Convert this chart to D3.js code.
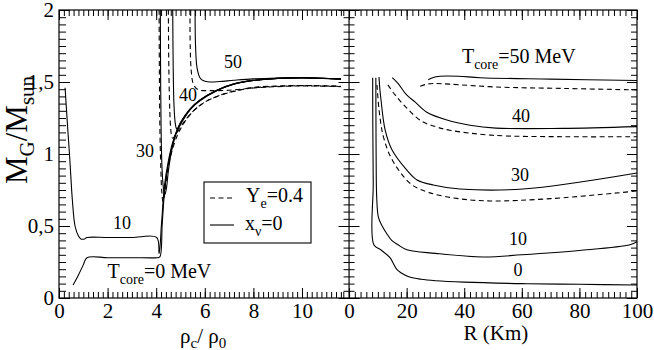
<!DOCTYPE html>
<html>
<head>
<meta charset="utf-8">
<script src="https://cdn.jsdelivr.net/npm/d3@7"></script>
<style>
body { margin: 0; background: #fff; }
svg { display: block; }
</style>
</head>
<body>
<svg id="chart"></svg>
<script>
const width = 654;
const height = 350;
const serif = 'Liberation Serif';

// left panel: [rho_c/rho_0, M_G/M_sun]
const leftT0 = [[0.58,0.09],[0.8,0.16],[1.0,0.23],[1.15,0.28],[2,0.28],[3,0.28],[4.05,0.28],[4.15,0.285],[4.25,0.52],[4.36,0.77],[4.5,0.93],[4.65,1.05],[4.8,1.14],[5.0,1.215],[5.4,1.31],[5.8,1.37],[6.5,1.44],[7.2,1.485],[8,1.51],[9,1.525],[10,1.53],[11.6,1.52]];
const leftT10 = [[0.25,1.46],[0.35,1.2],[0.45,0.95],[0.55,0.68],[0.66,0.5],[0.8,0.43],[0.9,0.41],[1.05,0.41],[1.15,0.42],[2,0.42],[3,0.42],[4.02,0.42],[4.12,0.31],[4.22,0.52],[4.34,0.78],[4.5,0.95],[4.66,1.07],[4.82,1.15],[5.02,1.225],[5.4,1.315],[5.8,1.375],[6.5,1.443],[7.2,1.487],[8,1.512],[9,1.526],[10,1.53],[11.6,1.522]];
const leftT30 = [[4.17,2.0],[4.18,1.6],[4.2,1.2],[4.24,0.9],[4.3,0.76],[4.36,0.72],[4.42,0.76],[4.5,0.88],[4.62,1.01],[4.8,1.13],[5.0,1.21],[5.4,1.31],[5.8,1.372],[6.5,1.442],[7.2,1.486],[8,1.51],[9,1.524],[10,1.528],[11.6,1.52]];
const leftT30Ye = [[4.12,2.0],[4.13,1.6],[4.15,1.2],[4.19,0.9],[4.23,0.74],[4.28,0.67],[4.33,0.7],[4.4,0.8],[4.52,0.93],[4.7,1.05],[4.9,1.14],[5.2,1.23],[5.6,1.31],[6,1.36],[6.5,1.4],[7.2,1.435],[8,1.46],[9,1.47],[10,1.475],[11.6,1.47]];
const leftT40 = [[4.68,2.0],[4.7,1.6],[4.73,1.35],[4.78,1.22],[4.84,1.175],[4.9,1.175],[5.0,1.205],[5.2,1.26],[5.4,1.31],[5.8,1.374],[6.5,1.443],[7.2,1.487],[8,1.511],[9,1.525],[10,1.529],[11.6,1.521]];
const leftT40Ye = [[4.5,2.0],[4.52,1.6],[4.56,1.3],[4.6,1.17],[4.65,1.115],[4.7,1.11],[4.78,1.13],[4.9,1.16],[5.2,1.235],[5.6,1.31],[6,1.36],[6.5,1.4],[7.2,1.437],[8,1.462],[9,1.472],[10,1.476],[11.6,1.47]];
const leftT50 = [[5.6,2.0],[5.62,1.75],[5.68,1.6],[5.8,1.53],[5.95,1.508],[6.2,1.5],[6.6,1.503],[7.2,1.512],[8,1.522],[9,1.528],[10,1.53],[11.6,1.522]];
const leftT50Ye = [[5.39,2.0],[5.4,1.75],[5.44,1.58],[5.52,1.49],[5.65,1.455],[5.8,1.443],[6.2,1.44],[7,1.443],[8,1.458],[9,1.468],[10,1.473],[11.6,1.468]];

// right panel: [R (km), M_G/M_sun]
const rightT0 = [[8.2,1.53],[8.25,1.2],[8.4,0.8],[8.6,0.37],[11,0.335],[14.2,0.28],[15.3,0.243],[16.5,0.2],[18,0.175],[21,0.146],[25,0.13],[30,0.12],[40,0.11],[60,0.1],[80,0.095],[100,0.09]];
const rightT10 = [[9.3,1.53],[9.35,1.2],[9.4,1.0],[9.6,0.7],[10.2,0.56],[11.5,0.5],[13,0.45],[14.8,0.4],[17,0.37],[20.1,0.335],[30,0.31],[46.5,0.285],[60,0.3],[80,0.33],[97.6,0.37],[100,0.39]];
const rightT30 = [[10.4,1.535],[10.7,1.45],[11.1,1.375],[12.5,1.17],[14.9,1.03],[20,0.89],[23.6,0.82],[29.2,0.785],[38.5,0.757],[60.4,0.757],[100,0.868]];
const rightT30Ye = [[9.7,1.48],[10.4,1.31],[11.8,1.13],[14.2,0.99],[17.7,0.875],[21.9,0.785],[28.1,0.73],[38,0.69],[49,0.674],[70,0.69],[100,0.743]];
const rightT40 = [[15,1.53],[17,1.49],[20,1.41],[23,1.36],[27,1.29],[34,1.236],[42,1.2],[51,1.18],[74,1.178],[100,1.19]];
const rightT40Ye = [[13.5,1.48],[16,1.41],[20,1.32],[25,1.23],[30,1.19],[35,1.165],[50,1.13],[75,1.12],[100,1.12]];
const rightT50 = [[27.5,1.515],[29,1.53],[31.6,1.54],[38,1.54],[45.5,1.53],[70,1.52],[100,1.51]];
const rightT50Ye = [[24.7,1.47],[27,1.485],[29.2,1.49],[35,1.485],[51.4,1.465],[75,1.455],[100,1.445]];

const leftMajor = [0, 2, 4, 6, 8, 10];
const rightMajor = [0, 20, 40, 60, 80, 100];
const yMajor = [0, 0.5, 1, 1.5, 2];
const yLabels = ['0', '0,5', '1', '1,5', '2'];

// curve labels: [x, y, text]
const leftNotes = [[7.16, 1.6, '50'], [5.31, 1.37, '40'], [3.54, 0.98, '30'], [2.59, 0.48, '10']];
const rightNotes = [[59.7, 1.22, '40'], [59.4, 0.81, '30'], [58.7, 0.37, '10'], [58.7, 0.155, '0']];

const svg = d3.select('#chart').attr('width', width).attr('height', height);

const xL = d3.scaleLinear().domain([0, 11.7]).range([59, 343.3]);
const xR = d3.scaleLinear().domain([-2, 100]).range([343.3, 637]);
const y = d3.scaleLinear().domain([0, 2]).range([298, 10]);

const yTop = y(2), yBottom = y(0);

function axisStyle(g) {
    g.select('.domain').remove();
    g.attr('font-family', null);
    g.selectAll('line').attr('stroke', '#000');
    g.selectAll('text').attr('font-size', 21).attr('fill', '#000');
}

// bottom and top ticks
const leftMinor = d3.range(0, 11.61, 0.2);
const rightMinor = d3.range(-2, 100.1, 2);
const yMinor = d3.range(0, 2.001, 0.05);

svg.append('g').attr('transform', `translate(0,${yBottom})`)
    .call(d3.axisBottom(xL).tickValues(leftMinor).tickSize(-6).tickFormat('')).call(axisStyle);
svg.append('g').attr('transform', `translate(0,${yBottom})`)
    .call(d3.axisBottom(xL).tickValues(leftMajor).tickSize(-10).tickPadding(5).tickFormat(d3.format('d'))).call(axisStyle);
svg.append('g').attr('transform', `translate(0,${yBottom})`)
    .call(d3.axisBottom(xR).tickValues(rightMinor).tickSize(-6).tickFormat('')).call(axisStyle);
svg.append('g').attr('transform', `translate(0,${yBottom})`)
    .call(d3.axisBottom(xR).tickValues(rightMajor).tickSize(-10).tickPadding(5).tickFormat(d3.format('d'))).call(axisStyle);

svg.append('g').attr('transform', `translate(0,${yTop})`)
    .call(d3.axisTop(xL).tickValues(leftMinor).tickSize(-6).tickFormat('')).call(axisStyle);
svg.append('g').attr('transform', `translate(0,${yTop})`)
    .call(d3.axisTop(xL).tickValues(leftMajor).tickSize(-10).tickFormat('')).call(axisStyle);
svg.append('g').attr('transform', `translate(0,${yTop})`)
    .call(d3.axisTop(xR).tickValues(rightMinor).tickSize(-6).tickFormat('')).call(axisStyle);
svg.append('g').attr('transform', `translate(0,${yTop})`)
    .call(d3.axisTop(xR).tickValues(rightMajor).tickSize(-10).tickFormat('')).call(axisStyle);

// left y axis
svg.append('g').attr('transform', `translate(${xL(0)},0)`)
    .call(d3.axisLeft(y).tickValues(yMinor).tickSize(-7).tickFormat('')).call(axisStyle);
svg.append('g').attr('transform', `translate(${xL(0)},0)`)
    .call(d3.axisLeft(y).tickValues(yMajor).tickSize(-11)
        .tickFormat((d, i) => yLabels[i])).call(axisStyle)
    .selectAll('text').attr('x', -5);

// y axis at R = 0, ticks on both sides
[d3.axisLeft, d3.axisRight].forEach(ax => {
    svg.append('g').attr('transform', `translate(${xR(0)},0)`)
        .call(ax(y).tickValues(yMinor).tickSize(5.5).tickFormat('')).call(axisStyle);
    svg.append('g').attr('transform', `translate(${xR(0)},0)`)
        .call(ax(y).tickValues(yMajor).tickSize(10.5).tickFormat('')).call(axisStyle);
});

// right edge
svg.append('g').attr('transform', `translate(${xR(100)},0)`)
    .call(d3.axisRight(y).tickValues(yMinor).tickSize(-6).tickFormat('')).call(axisStyle);
svg.append('g').attr('transform', `translate(${xR(100)},0)`)
    .call(d3.axisRight(y).tickValues(yMajor).tickSize(-10).tickFormat('')).call(axisStyle);

// frame
svg.append('rect')
    .attr('x', xL(0)).attr('y', yTop)
    .attr('width', xR(100) - xL(0)).attr('height', yBottom - yTop)
    .attr('fill', 'none').attr('stroke', '#000').attr('stroke-width', 1.2);
svg.append('line')
    .attr('x1', xR(0)).attr('x2', xR(0)).attr('y1', yTop).attr('y2', yBottom)
    .attr('stroke', '#000').attr('stroke-width', 1.2);

// curves
const leftCurves = [
    [leftT0, false], [leftT10, false], [leftT30, false], [leftT40, false], [leftT50, false],
    [leftT30Ye, true], [leftT40Ye, true], [leftT50Ye, true]
];
const rightCurves = [
    [rightT0, false], [rightT10, false], [rightT30, false], [rightT40, false], [rightT50, false],
    [rightT30Ye, true], [rightT40Ye, true], [rightT50Ye, true]
];

svg.append('clipPath').attr('id', 'clipL').append('rect')
    .attr('x', xL(0)).attr('y', yTop).attr('width', xL(11.7) - xL(0)).attr('height', yBottom - yTop);

svg.append('g').attr('clip-path', 'url(#clipL)')
    .selectAll('path').data(leftCurves).enter().append('path')
    .attr('d', d => d3.line().x(p => xL(p[0])).y(p => y(p[1])).curve(d3.curveCatmullRom.alpha(0.5))(d[0]))
    .attr('fill', 'none').attr('stroke', '#000').attr('stroke-width', 1.1)
    .attr('stroke-dasharray', d => d[1] ? '5,3.5' : null);

svg.append('g')
    .selectAll('path').data(rightCurves).enter().append('path')
    .attr('d', d => d3.line().x(p => xR(p[0])).y(p => y(p[1])).curve(d3.curveCatmullRom.alpha(0.5))(d[0]))
    .attr('fill', 'none').attr('stroke', '#000').attr('stroke-width', 1.1)
    .attr('stroke-dasharray', d => d[1] ? '5,3.5' : null);

// curve labels
svg.append('g').selectAll('text').data(leftNotes).enter().append('text')
    .attr('x', d => xL(d[0])).attr('y', d => y(d[1]))
    .attr('text-anchor', 'middle').attr('font-size', 18)
    .text(d => d[2]);
svg.append('g').selectAll('text').data(rightNotes).enter().append('text')
    .attr('x', d => xR(d[0])).attr('y', d => y(d[1]))
    .attr('text-anchor', 'middle').attr('font-size', 18)
    .text(d => d[2]);

// text with subscripts: parts = [[text, isSub], ...]
function richText(sel, parts, size, subSize, shift) {
    let down = false;
    parts.forEach(p => {
        const t = sel.append('tspan').text(p[0]).attr('font-size', p[1] ? subSize : size);
        if (p[1] && !down) { t.attr('dy', shift); down = true; }
        else if (!p[1] && down) { t.attr('dy', -shift); down = false; }
    });
    return sel;
}

richText(svg.append('text').attr('x', xL(2.0)).attr('y', y(0.14)),
    [['T', false], ['core', true], ['=0 MeV', false]], 20, 14, 6);
richText(svg.append('text').attr('x', xR(39.2)).attr('y', y(1.63)),
    [['T', false], ['core', true], ['=50 MeV', false]], 20, 14, 6);

// axis titles
richText(svg.append('text').attr('x', 180).attr('y', 343),
    [['\u03c1', false], ['c', true], ['/ \u03c1', false], ['0', true]], 21, 15, 5);
svg.append('text').attr('x', xR(51)).attr('y', 340).attr('text-anchor', 'middle')
    .attr('font-size', 21).text('R (Km)');
richText(svg.append('text').attr('transform', 'translate(27,184) rotate(-90)'),
    [['M', false], ['G', true], ['/M', false], ['sun', true]], 31, 21, 7);

// legend
const legend = svg.append('g');
legend.append('rect').attr('x', 204).attr('y', 182).attr('width', 107).attr('height', 61)
    .attr('fill', '#fff').attr('stroke', '#000').attr('stroke-width', 1.1);
legend.append('line').attr('x1', 210).attr('x2', 234).attr('y1', 198).attr('y2', 198)
    .attr('stroke', '#000').attr('stroke-width', 1.1).attr('stroke-dasharray', '5,3.5');
legend.append('line').attr('x1', 210).attr('x2', 234).attr('y1', 225).attr('y2', 225)
    .attr('stroke', '#000').attr('stroke-width', 1.1);
richText(legend.append('text').attr('x', 246).attr('y', 202),
    [['Y', false], ['e', true], ['=0.4', false]], 20, 14, 6);
richText(legend.append('text').attr('x', 245).attr('y', 230),
    [['x', false], ['\u03bd', true], ['=0', false]], 20, 14, 6);

svg.selectAll('text').style('font-family', serif).attr('fill', '#000');
</script>
</body>
</html>
